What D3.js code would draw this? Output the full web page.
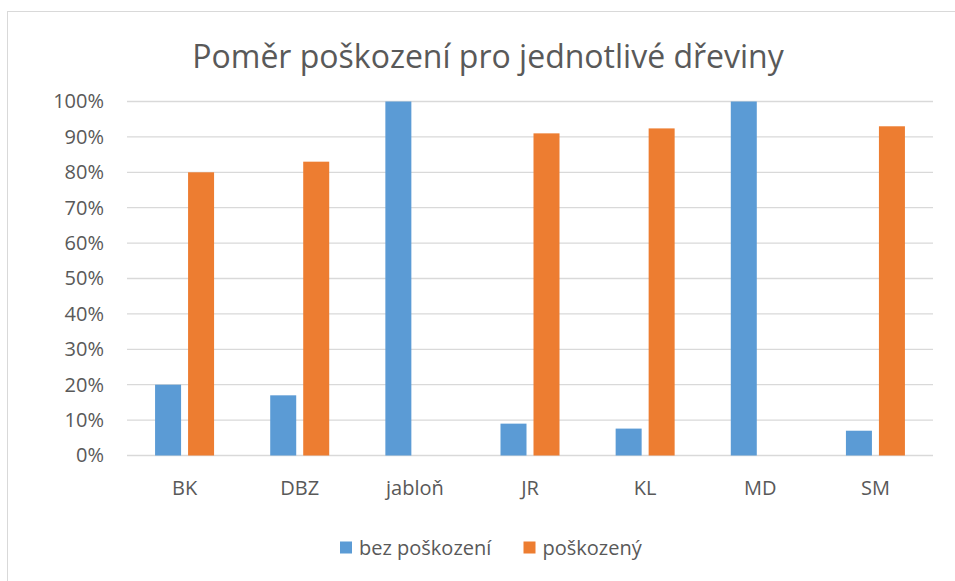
<!DOCTYPE html>
<html>
<head>
<meta charset="utf-8">
<script src="https://cdn.jsdelivr.net/npm/d3@7.9.0/dist/d3.min.js"></script>
<style>
  body { margin: 0; background: #fff; }
  svg text { font-family: "Open Sans", sans-serif; fill: #595959; }
</style>
</head>
<body>
<svg id="chart" width="955" height="581"></svg>
<script>
// DATA
const categories = ['BK', 'DBZ', 'jabloň', 'JR', 'KL', 'MD', 'SM'];
const seriesNames = ['bez poškození', 'poškozený'];
const bezPoskozeni = [0.20, 0.17, 1.00, 0.09, 0.076, 1.00, 0.07];
const poskozeny = [0.80, 0.83, 0.00, 0.91, 0.924, 0.00, 0.93];
const yTicks = [0, 0.1, 0.2, 0.3, 0.4, 0.5, 0.6, 0.7, 0.8, 0.9, 1.0];
const colors = ['#5B9BD5', '#ED7D31'];

const series = [bezPoskozeni, poskozeny];

const svg = d3.select('#chart');

// chart frame (cropped at right/bottom)
svg.append('rect')
  .attr('x', 7.5).attr('y', 11.5)
  .attr('width', 1000).attr('height', 1000)
  .attr('fill', 'none')
  .attr('stroke', '#d9d9d9')
  .attr('stroke-width', 1);

// title
svg.append('text')
  .attr('x', 488).attr('y', 68)
  .attr('text-anchor', 'middle')
  .style('font-size', '32px')
  .text('Poměr poškození pro jednotlivé dřeviny');

// scales
const x = d3.scaleBand()
  .domain(categories)
  .range([127, 933]);

const y = d3.scaleLinear()
  .domain([0, 1])
  .range([455.5, 101.5]);

const groupW = 59;
const xInner = d3.scaleBand()
  .domain(seriesNames)
  .range([-groupW / 2, groupW / 2])
  .paddingInner(7 / 33);

// gridlines
svg.append('g')
  .selectAll('line')
  .data(yTicks)
  .join('line')
  .attr('x1', 127).attr('x2', 933)
  .attr('y1', d => y(d)).attr('y2', d => y(d))
  .attr('stroke', '#d9d9d9')
  .attr('stroke-width', 1.3);

// y axis labels
const yAxis = d3.axisLeft(y)
  .tickValues(yTicks)
  .tickFormat(d3.format('.0%'))
  .tickSize(0)
  .tickPadding(0);

svg.append('g')
  .attr('transform', 'translate(104,0)')
  .call(yAxis)
  .call(g => g.select('.domain').remove())
  .call(g => g.selectAll('text')
    .attr('fill', '#595959')
    .style('font-size', '20px')
    .style('font-family', '"Open Sans", sans-serif'));

// bars
series.forEach((vals, si) => {
  svg.append('g')
    .selectAll('rect')
    .data(vals)
    .join('rect')
    .attr('x', (d, i) => x(categories[i]) + x.bandwidth() / 2 + xInner(seriesNames[si]))
    .attr('width', xInner.bandwidth())
    .attr('y', d => y(d))
    .attr('height', d => y(0) - y(d))
    .attr('fill', colors[si]);
});

// x axis labels
const xAxis = d3.axisBottom(x).tickSize(0).tickPadding(0);
svg.append('g')
  .attr('transform', 'translate(0,481)')
  .call(xAxis)
  .call(g => g.select('.domain').remove())
  .call(g => g.selectAll('text')
    .attr('fill', '#595959')
    .style('font-size', '20px')
    .style('font-family', '"Open Sans", sans-serif'));

// legend
const legendItems = [
  { name: seriesNames[0], color: colors[0], x: 340 },
  { name: seriesNames[1], color: colors[1], x: 523.5 }
];
const lg = svg.append('g')
  .selectAll('g')
  .data(legendItems)
  .join('g')
  .attr('transform', d => `translate(${d.x},541.5)`);
lg.append('rect')
  .attr('width', 12).attr('height', 12)
  .attr('fill', d => d.color);
lg.append('text')
  .attr('x', 19).attr('y', 13)
  .style('font-size', '20px')
  .text(d => d.name);
</script>
</body>
</html>
